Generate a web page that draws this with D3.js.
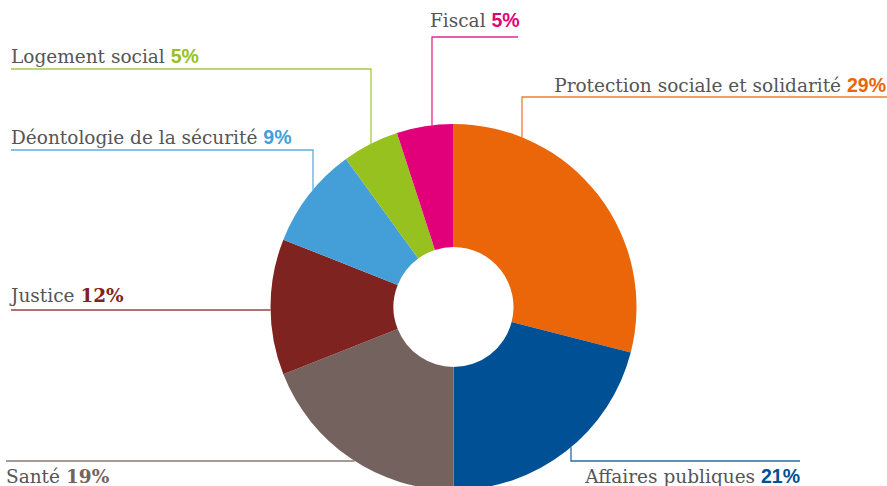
<!DOCTYPE html>
<html>
<head>
<meta charset="utf-8">
<script src="https://d3js.org/d3.v7.min.js"></script>
<style>
  body { margin: 0; background: #fff; }
  .lab { font-family: "DejaVu Serif", serif; font-size: 18.5px; fill: #555; }
  .pct { font-family: "Liberation Sans", Arial, sans-serif; font-weight: bold; font-size: 19.5px; }
  .pct.slab { font-family: "DejaVu Serif", serif; font-size: 18.5px; }
</style>
</head>
<body>
<script>
// data, clockwise from 12 o'clock
var categories = ["Protection sociale et solidarité", "Affaires publiques", "Santé", "Justice",
                  "Déontologie de la sécurité", "Logement social", "Fiscal"];
var shares = [29, 21, 19, 12, 9, 5, 5];
var colors = ["#ea6608", "#005095", "#74625e", "#7e2320", "#449fd8", "#97c11f", "#e2007a"];

var width = 887, height = 486;
var cx = 453.5, cy = 307, R = 183, r0 = 60;

// label layout: text position + leader (horizontal line at hy, then vertical into arc or straight into arc)
var layout = [
  {tx: 886, ty: 92, anchor: "end", hy: 97, hx1: 887, hx2: 522, toArc: "v"},
  {tx: 800, ty: 483, anchor: "end", hy: 461, hx1: 800, hx2: 571, toArc: "v"},
  {tx: 6, ty: 483, anchor: "start", hy: 461, hx1: 6, toArc: "h", slab: true},
  {tx: 11, ty: 302, anchor: "start", hy: 310, hx1: 11, toArc: "h", slab: true},
  {tx: 11, ty: 144, anchor: "start", hy: 150, hx1: 11, hx2: 313, toArc: "v"},
  {tx: 11, ty: 63, anchor: "start", hy: 69, hx1: 11, hx2: 371, toArc: "v"},
  {tx: 430, ty: 27, anchor: "start", hy: 37, hx1: 518, hx2: 432, toArc: "v"}
];

var svg = d3.select("body").append("svg")
  .attr("width", width).attr("height", height);

var pie = d3.pie().sort(null).value(d => d)(shares);
var arc = d3.arc().innerRadius(r0).outerRadius(R);

// leader lines
layout.forEach(function(L, i) {
  var pts;
  if (L.toArc === "v") {
    var dx = L.hx2 - cx;
    var dy = Math.sqrt(R * R - dx * dx);
    var ay = L.hy < cy ? cy - dy : cy + dy;
    pts = [[L.hx1, L.hy], [L.hx2, L.hy], [L.hx2, ay]];
  } else {
    var dyh = L.hy - cy;
    var ax = cx - Math.sqrt(R * R - dyh * dyh);
    pts = [[L.hx1, L.hy], [ax, L.hy]];
  }
  svg.append("path")
    .attr("d", d3.line()(pts))
    .attr("fill", "none")
    .attr("stroke", colors[i])
    .attr("stroke-opacity", 0.85)
    .attr("stroke-width", 1.3);
});

svg.append("g")
  .attr("transform", `translate(${cx},${cy})`)
  .selectAll("path")
  .data(pie)
  .join("path")
  .attr("d", arc)
  .attr("fill", (d, i) => colors[i]);

var t = svg.append("g").selectAll("text")
  .data(categories)
  .join("text")
  .attr("x", (d, i) => layout[i].tx)
  .attr("y", (d, i) => layout[i].ty)
  .attr("text-anchor", (d, i) => layout[i].anchor);

t.append("tspan").attr("class", "lab").text(d => d + " ");
t.append("tspan")
  .attr("class", (d, i) => layout[i].slab ? "pct slab" : "pct")
  .attr("fill", (d, i) => colors[i])
  .text((d, i) => shares[i] + "%");
</script>
</body>
</html>
